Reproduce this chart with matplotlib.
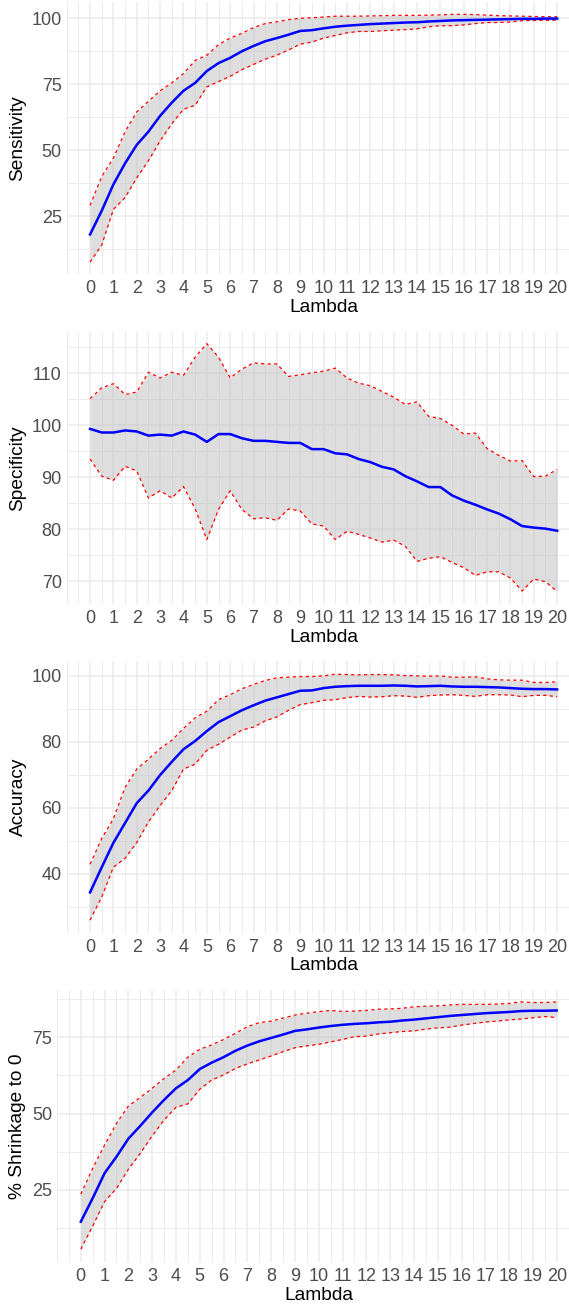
import matplotlib

matplotlib.use("Agg")

import matplotlib.pyplot as plt
from matplotlib.ticker import FixedLocator

plt.rcParams["font.family"] = ["Liberation Sans", "DejaVu Sans"]

LAMBDA = [0, 0.5, 1, 1.5, 2, 2.5, 3, 3.5, 4, 4.5, 5, 5.5, 6, 6.5, 7, 7.5, 8, 8.5, 9, 9.5, 10,
          10.5, 11, 11.5, 12, 12.5, 13, 13.5, 14, 14.5, 15, 15.5, 16, 16.5, 17, 17.5, 18, 18.5,
          19, 19.5, 20]
LAMBDA_TICKS = list(range(0, 21))

SENS_MEAN = [18, 27, 37, 45, 52, 57, 63, 68, 72.5, 75.5, 80, 83, 85, 87.5, 89.5, 91.3, 92.5,
             93.8, 95.2, 95.5, 96.2, 96.8, 97.2, 97.5, 97.8, 98, 98.2, 98.4, 98.5, 98.8, 99.0,
             99.2, 99.3, 99.4, 99.5, 99.6, 99.7, 99.8, 99.8, 99.9, 99.9]
SENS_UPPER = [29, 40, 47, 57, 64.5, 68.5, 72.5, 75.5, 79, 84, 86, 90, 92.5, 94.3, 96.5, 98, 98.7,
              99.5, 100, 100.2, 100.5, 100.8, 100.8, 100.8, 100.9, 101, 101.1, 101.1, 101.1,
              101.2, 101.3, 101.5, 101.5, 101.4, 101.2, 101.0, 100.9, 100.8, 100.7, 100.6, 100.6]
SENS_LOWER = [7.5, 14, 27.5, 32, 39.5, 46, 53.5, 60, 65.5, 67, 74, 76, 78, 80.5, 82.5, 84.5, 86,
              88, 90.2, 91, 92.5, 93.5, 94.5, 95, 95, 95.3, 95.5, 95.7, 96, 96.8, 97.2, 97.2,
              97.5, 98, 98.4, 98.4, 98.6, 99.1, 99.2, 99.2, 99.3]

SPEC_MEAN = [99.3, 98.6, 98.6, 99.0, 98.8, 98.0, 98.2, 98.0, 98.8, 98.2, 96.8, 98.3, 98.3, 97.5,
             97.0, 97.0, 96.8, 96.6, 96.6, 95.4, 95.4, 94.6, 94.4, 93.5, 92.9, 92.0, 91.5, 90.2,
             89.2, 88.1, 88.1, 86.5, 85.5, 84.7, 83.8, 83.0, 81.9, 80.6, 80.3, 80.1, 79.7]
SPEC_UPPER = [105.1, 107.2, 108, 105.9, 106.4, 110.2, 109.1, 110.2, 109.6, 113.1, 115.7, 113.1,
              109.1, 110.8, 112, 111.8, 111.8, 109.4, 109.7, 110.1, 110.4, 111, 109.1, 108.1,
              107.6, 106.5, 105.4, 104, 104.5, 101.7, 101.3, 100, 98.3, 98.5, 95.5, 94.2, 93.1,
              93.2, 90.1, 90.2, 91.5]
SPEC_LOWER = [93.5, 90.2, 89.4, 92.1, 91.2, 86.0, 87.4, 86.0, 88.2, 83.9, 78.0, 83.8, 87.4, 83.8,
              82.0, 82.2, 81.7, 83.9, 83.5, 81.0, 80.6, 78.0, 79.6, 79.0, 78.3, 77.5, 77.9, 76.7,
              73.8, 74.4, 74.7, 73.6, 72.6, 71.1, 71.8, 71.8, 70.6, 68.1, 70.4, 69.9, 68.0]

ACC_MEAN = [34.4, 42, 49.4, 55.4, 61.4, 65.2, 69.9, 73.9, 77.7, 80.2, 83.2, 85.9, 87.7, 89.5,
            91.0, 92.4, 93.4, 94.4, 95.4, 95.5, 96.2, 96.6, 96.8, 96.9, 96.9, 96.9, 97.0, 96.9,
            96.7, 96.8, 96.9, 96.7, 96.6, 96.6, 96.5, 96.4, 96.2, 96.0, 95.9, 95.9, 95.8]
ACC_UPPER = [42.9, 50.7, 56.7, 66.2, 71.7, 74.7, 77.9, 80.4, 84.0, 87.2, 89.2, 92.7, 94.2, 96.0,
             97.3, 98.5, 99.3, 99.5, 99.7, 99.7, 99.9, 100.4, 100.3, 100.2, 100.3, 100.3, 100.2,
             100.0, 99.9, 99.8, 99.9, 99.5, 99.5, 99.6, 99.0, 98.7, 98.6, 98.6, 97.9, 97.9, 98.1]
ACC_LOWER = [26.0, 33.0, 42.0, 44.7, 49.5, 55.7, 60.7, 65.2, 71.7, 73.2, 77.4, 79.2, 81.4, 83.5,
             84.4, 86.3, 87.5, 89.5, 91.2, 91.8, 92.5, 92.7, 93.3, 93.7, 93.5, 93.6, 93.9, 93.8,
             93.4, 93.9, 94.1, 94.2, 94.0, 93.7, 94.2, 94.2, 94.1, 93.6, 94.0, 94.0, 93.6]

SHRINK_MEAN = [14.6, 22.3, 30.5, 35.9, 41.8, 46.0, 50.4, 54.5, 58.3, 61.0, 64.6, 66.7, 68.5,
               70.6, 72.3, 73.7, 74.8, 75.9, 77.1, 77.6, 78.2, 78.7, 79.1, 79.4, 79.6, 79.9,
               80.1, 80.5, 80.8, 81.2, 81.6, 82.0, 82.3, 82.6, 82.9, 83.1, 83.3, 83.6, 83.7,
               83.7, 83.8]
SHRINK_UPPER = [23.6, 32.1, 39.7, 46.8, 52.5, 55.3, 58.3, 61.5, 64.3, 68.5, 71.1, 72.5, 74.3,
                76.3, 78.5, 79.8, 80.3, 81.3, 82.3, 82.9, 83.4, 83.8, 83.5, 83.6, 83.8, 84.2,
                84.3, 84.5, 85.0, 85.2, 85.3, 85.6, 85.8, 85.8, 85.8, 85.9, 86.1, 86.6, 86.4,
                86.4, 86.6]
SHRINK_LOWER = [5.6, 13.2, 21.2, 25.5, 31.8, 37.0, 42.7, 47.9, 52.1, 53.2, 58.0, 61.0, 62.7,
                64.8, 66.3, 67.6, 68.9, 70.3, 71.6, 72.2, 72.7, 73.5, 74.3, 75.2, 75.4, 76.1,
                76.5, 76.9, 77.1, 77.7, 78.1, 78.3, 79.0, 79.5, 80.0, 80.3, 80.7, 81.0, 81.4,
                81.8, 81.5]

FIG_W, FIG_H = 569, 1307
GRID = "#ebebeb"
TEXT_GREY = "#4d4d4d"


def draw_panel(fig, box, mean, lower, upper, ylabel, ylim, yticks, yminor):
    left, top, right, bottom = box
    ax = fig.add_axes([left / FIG_W, 1 - bottom / FIG_H,
                       (right - left) / FIG_W, (bottom - top) / FIG_H])

    ax.fill_between(LAMBDA, lower, upper, color="#bebebe", alpha=0.5, linewidth=0, zorder=2)
    ax.plot(LAMBDA, upper, color="red", linewidth=0.9, dashes=(2.6, 2.6), zorder=3)
    ax.plot(LAMBDA, lower, color="red", linewidth=0.9, dashes=(2.6, 2.6), zorder=3)
    ax.plot(LAMBDA, mean, color="blue", linewidth=1.8, zorder=4)

    ax.set_xlim(-1, 21)
    ax.set_ylim(*ylim)
    ax.xaxis.set_major_locator(FixedLocator(LAMBDA_TICKS))
    ax.xaxis.set_minor_locator(FixedLocator([v / 2 for v in range(-2, 43)]))
    ax.set_xticklabels([str(t) for t in LAMBDA_TICKS])
    ax.yaxis.set_major_locator(FixedLocator(yticks))
    ax.yaxis.set_minor_locator(FixedLocator(yminor))

    ax.set_axisbelow(True)
    ax.grid(which="major", color=GRID, linewidth=1.1)
    ax.grid(which="minor", color=GRID, linewidth=0.7)
    for spine in ax.spines.values():
        spine.set_visible(False)
    ax.tick_params(which="both", length=0)
    ax.tick_params(axis="x", labelsize=13, labelcolor=TEXT_GREY, pad=4.5)
    ax.tick_params(axis="y", labelsize=13, labelcolor=TEXT_GREY, pad=3.6)

    height = bottom - top
    width = right - left
    ax.set_xlabel("Lambda", fontsize=13.8)
    ax.xaxis.label.set_va("center")
    ax.xaxis.set_label_coords(0.5, -33.3 / height)
    ax.set_ylabel(ylabel, fontsize=13.8)
    ax.yaxis.label.set_va("center")
    ax.yaxis.set_label_coords((18 - left) / width, 0.5)
    return ax


def main() -> None:
    fig = plt.figure(figsize=(FIG_W / 100, FIG_H / 100), dpi=100)
    right = 580.5

    draw_panel(fig, (66.7, 1.7, right, 274.0), SENS_MEAN, SENS_LOWER, SENS_UPPER,
               "Sensitivity", (3.0, 106.3), [25, 50, 75, 100], [12.5, 37.5, 62.5, 87.5])
    draw_panel(fig, (66.7, 331.7, right, 604.0), SPEC_MEAN, SPEC_LOWER, SPEC_UPPER,
               "Specificity", (65.6, 118.0), [70, 80, 90, 100, 110],
               [75, 85, 95, 105, 115])
    draw_panel(fig, (66.7, 661.0, right, 932.7), ACC_MEAN, ACC_LOWER, ACC_UPPER,
               "Accuracy", (22.2, 104.4), [40, 60, 80, 100], [30, 50, 70, 90])
    draw_panel(fig, (57.0, 990.0, right, 1261.7), SHRINK_MEAN, SHRINK_LOWER, SHRINK_UPPER,
               "% Shrinkage to 0", (1.5, 90.5), [25, 50, 75], [12.5, 37.5, 62.5, 87.5])

    fig.savefig("out.png", dpi=100)
    plt.close(fig)


if __name__ == "__main__":
    main()
